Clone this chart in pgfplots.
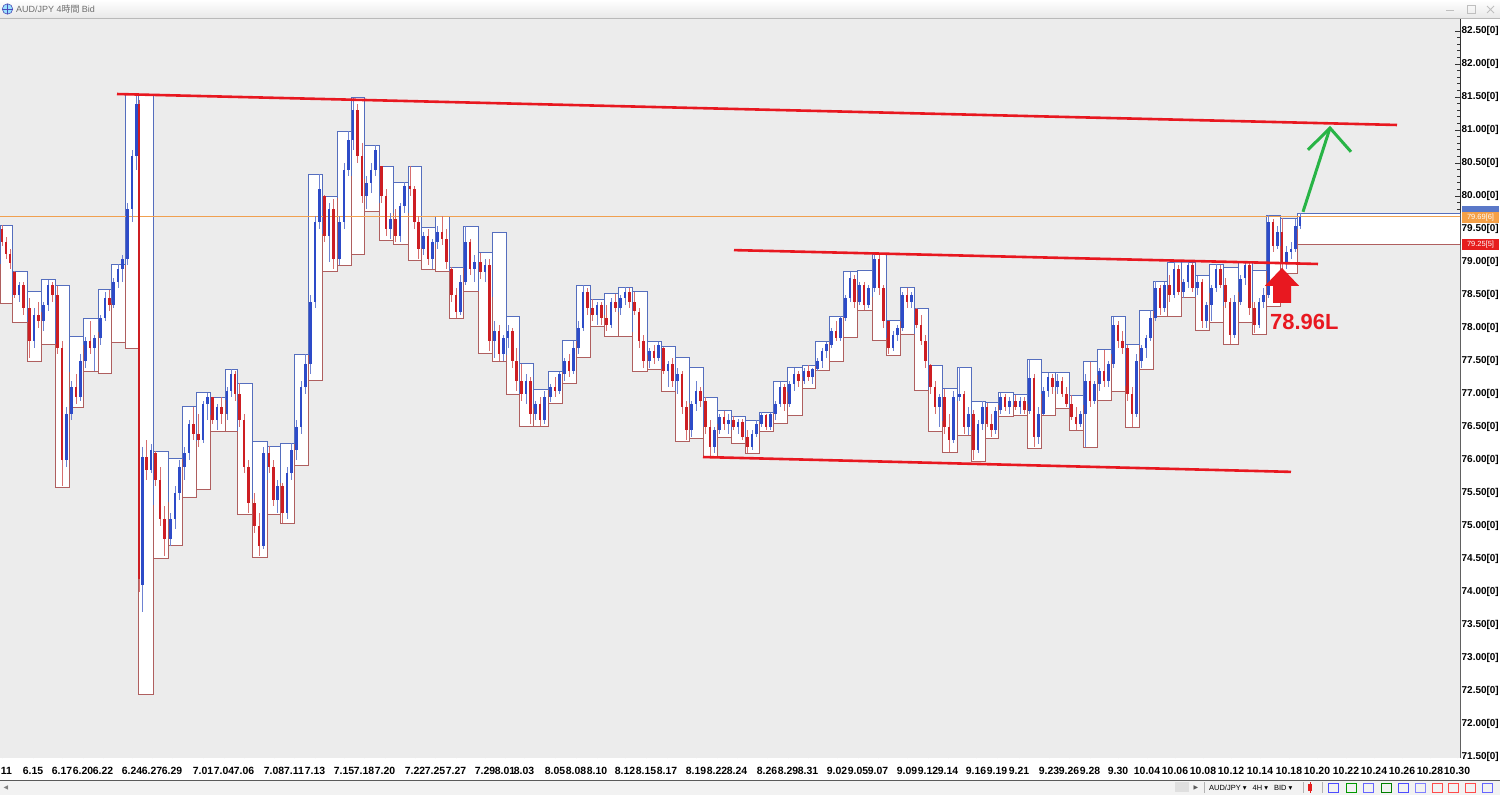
\documentclass[border=0pt]{standalone}
\usepackage{fontspec}
\setmainfont{Liberation Sans}
\newfontfamily\cjk{Noto Sans CJK JP}
\newfontfamily\dejavu{DejaVu Sans}
\usepackage{pgfplots}
\pgfplotsset{compat=1.18}
\usepackage{pgfplotstable}

\definecolor{plotbg}{RGB}{236,236,236}
\definecolor{chanup}{RGB}{85,110,190}
\definecolor{chanlo}{RGB}{175,95,95}
\definecolor{upbody}{RGB}{45,75,200}
\definecolor{upwick}{RGB}{110,130,210}
\definecolor{dnbody}{RGB}{205,30,35}
\definecolor{dnwick}{RGB}{215,110,110}
\definecolor{trend}{RGB}{232,24,32}
\definecolor{arrowgreen}{RGB}{40,180,70}
\definecolor{orangeln}{RGB}{240,160,80}
\definecolor{tagblue}{RGB}{90,120,200}
\definecolor{tagorange}{RGB}{245,160,70}
\definecolor{tagred}{RGB}{230,30,30}
\definecolor{titlegray}{RGB}{110,110,110}

\pgfplotstableread{
x u l
0 79.56 78.37
12 78.86 78.08
27 78.55 77.50
41 78.73 77.75
55 78.64 75.59
69 77.87 76.79
83 78.15 77.34
98 78.58 77.31
111 78.97 77.78
125 81.54 77.69
138 81.54 72.45
153 76.13 74.51
168 76.02 74.70
182 76.81 75.44
196 77.02 75.56
210 76.95 76.43
225 77.38 76.43
237 77.16 75.18
252 76.28 74.53
267 76.21 75.18
280 76.25 75.04
294 77.60 75.92
308 80.33 77.20
322 80.00 78.85
337 80.98 78.95
351 81.49 79.12
364 80.77 79.76
379 80.45 79.33
393 80.21 79.26
408 80.45 79.03
421 79.53 78.89
435 79.69 78.86
449 78.92 78.15
463 79.54 78.56
478 79.14 77.61
492 79.45 77.49
506 78.17 77.00
519 77.46 76.51
533 77.07 76.51
548 77.34 76.86
562 77.81 77.16
576 78.65 77.56
590 78.44 78.02
604 78.52 77.87
618 78.62 77.87
632 78.55 77.34
647 77.79 77.38
661 77.72 77.04
675 77.56 76.28
689 77.41 76.33
703 76.95 76.05
717 76.75 76.34
731 76.66 76.25
745 76.60 76.10
759 76.72 76.43
773 77.19 76.55
787 77.40 76.67
802 77.44 77.08
815 77.79 77.35
829 78.18 77.49
843 78.85 77.85
857 78.88 78.27
872 79.12 77.81
886 78.11 77.58
900 78.61 77.91
914 78.29 77.05
928 77.44 76.43
942 77.08 76.11
957 77.41 76.37
971 76.89 75.98
985 76.87 76.33
998 77.02 76.66
1013 77.00 76.67
1027 77.52 76.18
1041 77.32 76.67
1055 77.32 76.78
1069 76.98 76.45
1083 77.49 76.19
1097 77.67 76.90
1111 78.17 77.04
1125 77.75 76.49
1139 78.27 77.38
1153 78.71 78.17
1167 79.00 78.18
1181 79.00 78.46
1195 78.79 77.97
1209 78.97 78.09
1223 78.92 77.75
1238 79.00 78.09
1252 78.88 77.90
1266 79.71 78.32
1280 79.66 78.82
1297 79.74 79.26
1460 79.74 79.26
}\chan

\pgfplotstableread{
x o h l c
2 79.50 79.56 79.25 79.30
6 79.30 79.38 79.05 79.12
10 79.12 79.20 78.90 78.98
14.5 78.85 78.86 78.45 78.50
19 78.50 78.70 78.40 78.65
23.5 78.65 78.70 78.20 78.30
29.5 78.30 78.45 77.55 77.80
34 77.80 78.30 77.70 78.20
38.5 78.20 78.40 78.00 78.10
43.5 78.10 78.40 77.95 78.35
48 78.35 78.73 78.25 78.65
52.5 78.65 78.70 78.40 78.50
57.5 78.50 78.64 77.60 77.70
62 77.70 77.80 75.60 76.00
66.5 76.00 76.80 75.90 76.70
71.5 76.70 77.20 76.60 77.10
76 77.10 77.30 76.85 76.95
80.5 76.95 77.60 76.90 77.50
85.5 77.50 77.87 77.40 77.80
90 77.80 78.10 77.60 77.70
94.5 77.70 77.90 77.35 77.85
100.5 77.85 78.20 77.75 78.15
105 78.15 78.55 78.10 78.45
109.5 78.45 78.58 78.25 78.35
113.5 78.35 78.75 78.30 78.70
118 78.70 78.97 78.60 78.90
122.5 78.90 79.10 78.70 79.05
127.5 79.05 79.90 78.95 79.80
132 79.80 80.70 79.60 80.60
136.5 80.60 81.55 80.40 81.40
139 81.40 81.45 74.00 74.20
142.5 74.10 76.20 73.70 76.05
146.5 76.05 76.30 75.70 75.85
151 75.85 76.25 75.80 76.15
155.5 76.10 76.13 75.60 75.70
160 75.70 75.90 75.00 75.10
164.5 75.10 75.30 74.55 74.80
170.5 74.80 75.20 74.70 75.10
175 75.10 75.60 74.95 75.50
179.5 75.50 76.00 75.40 75.90
184.5 75.90 76.20 75.70 76.10
189 76.10 76.60 76.00 76.55
193.5 76.55 76.80 76.30 76.40
198.5 76.40 76.70 76.20 76.30
203 76.30 76.90 76.25 76.85
207.5 76.85 77.02 76.60 76.95
212.5 76.95 76.96 76.55 76.60
217 76.60 76.85 76.45 76.80
221.5 76.80 76.95 76.55 76.70
227 76.70 77.10 76.60 77.05
231 77.05 77.38 76.95 77.30
235 77.30 77.35 76.90 77.00
239.5 77.00 77.16 76.50 76.60
244 76.60 76.70 75.80 75.90
248.5 75.90 76.00 75.20 75.35
254.5 75.35 75.50 74.90 75.00
259 75.00 75.20 74.55 74.70
263.5 74.70 76.20 74.65 76.10
269 76.10 76.21 75.80 75.90
273.5 75.90 76.00 75.30 75.40
277.5 75.40 75.70 75.20 75.60
282.5 75.60 75.65 75.05 75.20
287 75.20 75.90 75.10 75.80
291.5 75.80 76.25 75.70 76.15
296.5 76.15 76.60 76.00 76.50
301 76.50 77.20 76.40 77.10
305.5 77.10 77.60 77.00 77.45
310.5 77.45 78.50 77.30 78.40
315 78.40 79.70 78.30 79.60
319.5 79.60 80.33 79.50 80.10
324.5 80.00 80.01 79.30 79.40
329 79.40 79.90 79.00 79.80
333.5 79.80 79.95 78.90 79.05
339.5 79.05 79.70 78.95 79.60
344 79.60 80.50 79.50 80.40
348.5 80.40 80.98 80.30 80.85
353 80.85 81.49 80.70 81.30
357.5 81.30 81.40 80.50 80.60
362 80.60 80.80 79.90 80.00
366.5 80.00 80.30 79.80 80.20
371 80.20 80.50 80.05 80.40
375.5 80.40 80.77 80.30 80.70
381.5 80.45 80.46 79.90 80.00
386 80.00 80.10 79.40 79.50
390.5 79.50 79.75 79.35 79.65
395.5 79.65 79.80 79.30 79.40
400 79.40 79.90 79.30 79.85
404.5 79.85 80.21 79.75 80.15
410 80.15 80.45 80.00 80.10
414.5 80.10 80.15 79.50 79.60
418.5 79.60 79.70 79.05 79.20
423.5 79.20 79.45 79.10 79.40
428 79.40 79.50 78.95 79.05
432.5 79.05 79.35 78.90 79.30
437.5 79.30 79.55 79.20 79.45
442 79.45 79.69 79.25 79.35
446.5 79.35 79.50 78.90 79.00
451.5 78.90 78.92 78.40 78.50
456 78.50 78.60 78.15 78.25
460.5 78.25 78.80 78.20 78.70
465.5 78.70 79.54 78.65 79.30
470 79.30 79.35 78.80 78.90
474.5 78.90 79.10 78.70 79.00
480.5 79.00 79.14 78.75 78.85
485 78.85 79.05 78.70 78.95
489.5 78.95 79.05 77.65 77.80
494.5 77.80 78.10 77.55 77.95
499 77.95 78.05 77.50 77.60
503.5 77.60 77.90 77.50 77.85
508 77.85 78.05 77.70 77.95
512.5 77.95 78.00 77.40 77.50
516.5 77.50 77.70 77.05 77.20
521.5 77.20 77.46 76.90 77.00
526 77.00 77.30 76.85 77.20
530.5 77.20 77.25 76.55 76.70
535.5 76.70 76.90 76.60 76.85
540 76.85 76.95 76.52 76.60
544.5 76.60 77.05 76.55 76.95
550.5 76.95 77.15 76.88 77.10
555 77.10 77.25 76.95 77.05
559.5 77.05 77.34 77.00 77.30
564.5 77.30 77.55 77.20 77.50
569 77.50 77.60 77.25 77.35
573.5 77.35 77.81 77.30 77.70
578.5 77.70 78.10 77.60 78.00
583 78.00 78.65 77.95 78.55
587.5 78.55 78.60 78.20 78.30
592.5 78.30 78.44 78.10 78.20
597 78.20 78.40 78.05 78.35
601.5 78.35 78.40 78.05 78.15
606.5 78.15 78.35 77.95 78.05
611 78.05 78.45 78.00 78.40
615.5 78.40 78.52 78.25 78.30
620.5 78.30 78.50 78.20 78.45
625 78.45 78.62 78.35 78.55
629.5 78.55 78.60 78.30 78.40
634.5 78.40 78.55 78.20 78.25
639 78.25 78.30 77.70 77.80
643.5 77.80 77.90 77.40 77.50
649.5 77.50 77.70 77.40 77.65
654 77.65 77.75 77.45 77.55
658.5 77.55 77.79 77.50 77.75
663.5 77.70 77.72 77.30 77.35
668 77.35 77.50 77.10 77.45
672.5 77.45 77.55 77.10 77.20
677.5 77.20 77.40 77.00 77.30
682 77.30 77.35 76.70 76.80
686.5 76.80 76.90 76.30 76.45
691.5 76.45 76.90 76.35 76.85
696 76.85 77.20 76.75 77.05
700.5 77.05 77.10 76.80 76.90
705.5 76.90 76.95 76.40 76.50
710 76.50 76.60 76.06 76.20
714.5 76.20 76.50 76.10 76.45
719.5 76.45 76.70 76.40 76.65
724 76.65 76.75 76.45 76.55
728.5 76.55 76.70 76.40 76.60
733.5 76.60 76.66 76.45 76.50
738 76.50 76.62 76.40 76.58
742.5 76.58 76.62 76.30 76.35
747.5 76.35 76.45 76.10 76.20
752 76.20 76.45 76.15 76.40
756.5 76.40 76.60 76.35 76.55
761.5 76.55 76.72 76.50 76.68
766 76.68 76.70 76.45 76.50
770.5 76.50 76.72 76.45 76.70
775.5 76.70 76.90 76.60 76.85
780 76.85 77.19 76.80 77.10
784.5 77.10 77.15 76.75 76.85
789.5 76.85 77.20 76.80 77.15
794 77.15 77.40 77.05 77.30
798.5 77.30 77.35 77.10 77.20
804 77.20 77.40 77.15 77.35
808.5 77.35 77.44 77.20 77.25
812.5 77.25 77.40 77.15 77.38
817.5 77.38 77.55 77.35 77.50
822 77.50 77.70 77.40 77.65
826.5 77.65 77.79 77.55 77.75
831.5 77.75 78.00 77.70 77.95
836 77.95 78.10 77.80 77.85
840.5 77.85 78.18 77.80 78.15
845.5 78.15 78.50 78.10 78.45
850 78.45 78.85 78.40 78.75
854.5 78.75 78.80 78.30 78.40
859.5 78.40 78.70 78.35 78.65
864 78.65 78.70 78.28 78.35
868.5 78.35 78.65 78.30 78.60
874.5 78.60 79.12 78.55 79.05
879 79.05 79.10 78.50 78.60
883.5 78.60 78.65 78.00 78.10
888.5 78.10 78.11 77.60 77.70
893 77.70 77.95 77.65 77.90
897.5 77.90 78.05 77.80 78.00
902.5 78.00 78.55 77.95 78.50
907 78.50 78.61 78.30 78.40
911.5 78.40 78.55 78.30 78.50
916.5 78.29 78.30 78.00 78.05
921 78.05 78.20 77.75 77.80
925.5 77.80 77.90 77.40 77.50
930.5 77.44 77.45 77.00 77.10
935 77.10 77.20 76.70 76.80
939.5 76.80 77.00 76.50 76.95
944.5 76.95 77.08 76.40 76.50
949 76.50 76.70 76.12 76.30
953.5 76.30 77.05 76.25 76.95
959.5 76.95 77.41 76.90 77.00
964 77.00 77.05 76.40 76.50
968.5 76.50 76.80 76.38 76.70
973.5 76.70 76.75 76.00 76.15
978 76.15 76.60 76.10 76.55
982.5 76.55 76.89 76.45 76.80
987 76.80 76.87 76.50 76.55
991.5 76.55 76.70 76.35 76.45
995.5 76.45 76.80 76.40 76.75
1000.5 76.75 77.02 76.70 76.95
1005 76.95 77.00 76.75 76.80
1009.5 76.80 76.95 76.70 76.90
1015.5 76.90 76.98 76.75 76.80
1020 76.80 76.95 76.70 76.90
1024.5 76.90 76.95 76.70 76.75
1029.5 76.75 77.52 76.70 77.25
1034 77.25 77.30 76.20 76.35
1038.5 76.35 76.80 76.25 76.70
1043.5 76.70 77.10 76.68 77.05
1048 77.05 77.32 76.95 77.25
1052.5 77.25 77.30 77.00 77.10
1057.5 77.10 77.30 77.00 77.20
1062 77.20 77.25 76.95 77.00
1066.5 77.00 77.10 76.80 76.85
1071.5 76.85 76.98 76.60 76.65
1076 76.65 76.80 76.46 76.55
1080.5 76.55 76.75 76.50 76.70
1085.5 76.70 77.30 76.20 77.20
1090 77.20 77.49 76.80 76.90
1094.5 76.90 77.20 76.85 77.15
1099.5 77.15 77.40 77.05 77.35
1104 77.35 77.67 77.10 77.20
1108.5 77.20 77.50 77.10 77.45
1113.5 77.45 78.17 77.40 78.05
1118 78.05 78.10 77.70 77.80
1122.5 77.80 77.95 77.60 77.70
1127.5 77.70 77.75 76.90 77.00
1132 77.00 77.10 76.50 76.70
1136.5 76.70 77.60 76.65 77.50
1141.5 77.50 77.75 77.40 77.70
1146 77.70 77.90 77.55 77.85
1150.5 77.85 78.27 77.80 78.15
1155.5 78.15 78.71 78.10 78.60
1160 78.60 78.65 78.20 78.30
1164.5 78.30 78.70 78.25 78.65
1169.5 78.65 78.80 78.40 78.50
1174 78.50 79.00 78.45 78.90
1178.5 78.90 78.95 78.50 78.55
1183.5 78.55 78.75 78.46 78.70
1188 78.70 79.00 78.60 78.95
1192.5 78.95 78.98 78.55 78.60
1197.5 78.60 78.79 78.50 78.70
1202 78.70 78.75 78.00 78.10
1206.5 78.10 78.40 78.00 78.35
1211.5 78.35 78.65 78.10 78.60
1216 78.60 78.97 78.55 78.90
1220.5 78.90 78.95 78.60 78.65
1225.5 78.65 78.75 78.30 78.40
1230 78.40 78.45 77.76 77.90
1234.5 77.90 78.50 77.85 78.40
1240.5 78.40 78.80 78.35 78.75
1245 78.75 79.00 78.65 78.95
1249.5 78.95 78.98 78.20 78.30
1254.5 78.30 78.40 77.92 78.05
1259 78.05 78.45 78.00 78.40
1263.5 78.40 78.60 78.30 78.50
1268.5 78.50 79.71 78.45 79.60
1273 79.60 79.65 79.15 79.25
1277.5 79.25 79.55 79.20 79.45
1282 79.45 79.66 78.90 79.00
1286.5 79.00 79.25 78.90 79.15
1291 79.15 79.30 79.05 79.20
1295.5 79.20 79.65 79.15 79.55
1300 79.55 79.74 79.50 79.69
}\candles

\begin{document}
\begin{tikzpicture}[x=1bp,y=1bp]
\useasboundingbox (0bp,0bp) rectangle (1500bp,795bp);
\fill[white] (0bp,0bp) rectangle (1500bp,795bp);
% bottom toolbar
\fill[gray!10] (0bp,0bp) rectangle (1500bp,15bp);
\draw[gray!70!black, line width=0.8bp] (0bp,15bp) -- (1500bp,15bp);
\node[inner sep=0pt, text=gray, font=\dejavu\fontsize{6}{7}\selectfont] at (6bp,7.5bp) {◀};
\fill[gray!25] (1175bp,2.5bp) rectangle (1189bp,12.5bp);
\node[inner sep=0pt, text=gray!70!black, font=\dejavu\fontsize{6}{7}\selectfont] at (1196bp,7.5bp) {▶};
\draw[gray!60] (1204bp,2bp) -- (1204bp,13bp) (1303bp,2bp) -- (1303bp,13bp) (1322bp,2bp) -- (1322bp,13bp);
\node[anchor=west, inner sep=0pt, font=\fontsize{7.5}{8}\selectfont] at (1209bp,7.5bp) {AUD/JPY {\dejavu ▾}\hspace{4bp} 4H {\dejavu ▾}\hspace{4bp} BID {\dejavu ▾}};
\fill[tagred] (1308bp,4bp) rectangle (1312bp,11bp);
\draw[tagred] (1310bp,2bp) -- (1310bp,13bp);
\foreach \xx/\cc in {1333/blue!70, 1351/green!60!black, 1368/blue!60, 1386/green!50!black, 1403/blue!70, 1420/blue!50, 1437/red!70, 1453/red!70, 1470/red!70, 1487/blue!60}{
  \draw[\cc, line width=0.8bp] (\xx bp-5bp,3bp) rectangle (\xx bp+5bp,12bp);
}
\begin{axis}[
  at={(0bp,37bp)}, anchor=south west,
  scale only axis, width=1460bp, height=739bp,
  xmin=0, xmax=1460, ymin=71.4848, ymax=82.6818,
  axis background/.style={fill=plotbg},
  axis x line*=bottom, axis y line*=right,
  x axis line style={draw=none},
  y axis line style={-, black!80, line width=0.8bp},
  tick align=inside,
  major tick length=5bp, minor tick length=3bp,
  every tick/.style={black!80, line width=0.6bp},
  ytick={71.5,72,72.5,73,73.5,74,74.5,75,75.5,76,76.5,77,77.5,78,78.5,79,79.5,80,80.5,81,81.5,82,82.5},
  yticklabels={71.50[0],72.00[0],72.50[0],73.00[0],73.50[0],74.00[0],74.50[0],75.00[0],75.50[0],76.00[0],76.50[0],77.00[0],77.50[0],78.00[0],78.50[0],79.00[0],79.50[0],80.00[0],80.50[0],81.00[0],81.50[0],82.00[0],82.50[0]},
  minor y tick num=4,
  yticklabel style={font=\bfseries\fontsize{10}{12}\selectfont, anchor=west, inner sep=1.5bp},
  xtick={2,33,62,83,103,132,152,172,203,224,244,274,294,315,344,364,385,415,435,456,485,505,524,555,576,597,625,646,667,696,717,737,767,788,808,837,858,878,907,928,948,976,997,1019,1049,1069,1090,1118,1147,1175,1203,1231,1260,1289,1317,1346,1374,1402,1430,1457},
  xticklabels={6.11,6.15,6.17,6.20,6.22,6.24,6.27,6.29,7.01,7.04,7.06,7.08,7.11,7.13,7.15,7.18,7.20,7.22,7.25,7.27,7.29,8.01,8.03,8.05,8.08,8.10,8.12,8.15,8.17,8.19,8.22,8.24,8.26,8.29,8.31,9.02,9.05,9.07,9.09,9.12,9.14,9.16,9.19,9.21,9.23,9.26,9.28,9.30,10.04,10.06,10.08,10.12,10.14,10.18,10.20,10.22,10.24,10.26,10.28,10.30},
  minor x tick num=1,
  xticklabel style={font=\bfseries\fontsize{10.5}{12}\selectfont, anchor=north, inner sep=0pt, yshift=-9bp},
]
% channel: white band between the stepped high and low
\addplot[ybar interval, fill=white, draw=none, forget plot] table[x=x,y=u]{\chan};
\addplot[ybar interval, fill=plotbg, draw=none, forget plot] table[x=x,y=l]{\chan};
% box sides (upper half blue, lower half red)
\addplot[draw=none, mark=none, forget plot,
  error bars/.cd, y dir=plus, y explicit, error mark=none, error bar style={draw=chanup, line width=0.7bp}]
  table[x=x, y expr={(\thisrow{u}+\thisrow{l})/2}, y error expr={(\thisrow{u}-\thisrow{l})/2}]{\chan};
\addplot[draw=none, mark=none, forget plot,
  error bars/.cd, y dir=minus, y explicit, error mark=none, error bar style={draw=chanlo, line width=0.7bp}]
  table[x=x, y expr={(\thisrow{u}+\thisrow{l})/2}, y error expr={(\thisrow{u}-\thisrow{l})/2}]{\chan};
\addplot[const plot, draw=chanup, line width=0.8bp, forget plot] table[x=x,y=u]{\chan};
\addplot[const plot, draw=chanlo, line width=0.8bp, forget plot] table[x=x,y=l]{\chan};
% current price line
\addplot[orangeln, line width=0.8bp, forget plot] coordinates {(0,79.69) (1460,79.69)};
% candles: wicks
\addplot[draw=none, mark=none, forget plot, restrict expr to domain={\thisrow{c}-\thisrow{o}}{0:100},
  error bars/.cd, y dir=both, y explicit, error mark=none, error bar style={draw=upwick, line width=0.8bp}]
  table[x=x, y expr={(\thisrow{h}+\thisrow{l})/2}, y error expr={(\thisrow{h}-\thisrow{l})/2}]{\candles};
\addplot[draw=none, mark=none, forget plot, restrict expr to domain={\thisrow{o}-\thisrow{c}}{0.0001:100},
  error bars/.cd, y dir=both, y explicit, error mark=none, error bar style={draw=dnwick, line width=0.8bp}]
  table[x=x, y expr={(\thisrow{h}+\thisrow{l})/2}, y error expr={(\thisrow{h}-\thisrow{l})/2}]{\candles};
% candles: bodies
\addplot[draw=none, mark=none, forget plot, restrict expr to domain={\thisrow{c}-\thisrow{o}}{0:100},
  error bars/.cd, y dir=both, y explicit, error mark=none, error bar style={draw=upbody, line width=2.8bp}]
  table[x=x, y expr={(\thisrow{o}+\thisrow{c})/2}, y error expr={abs(\thisrow{c}-\thisrow{o})/2}]{\candles};
\addplot[draw=none, mark=none, forget plot, restrict expr to domain={\thisrow{o}-\thisrow{c}}{0.0001:100},
  error bars/.cd, y dir=both, y explicit, error mark=none, error bar style={draw=dnbody, line width=2.8bp}]
  table[x=x, y expr={(\thisrow{o}+\thisrow{c})/2}, y error expr={abs(\thisrow{c}-\thisrow{o})/2}]{\candles};
% trend lines
\addplot[trend, line width=2.6bp, forget plot] coordinates {(117,81.545) (1397,81.076)};
\addplot[trend, line width=2.6bp, forget plot] coordinates {(734,79.18) (1318,78.97)};
\addplot[trend, line width=2.6bp, forget plot] coordinates {(703,76.045) (1291,75.82)};
% green arrow
\addplot[arrowgreen, line width=3bp, forget plot] coordinates {(1303,79.76) (1330,81.03)};
\addplot[arrowgreen, line width=3bp, line join=miter, forget plot] coordinates {(1308,80.70) (1330,81.03) (1351,80.67)};
% red block arrow
\addplot[fill=trend, draw=none, forget plot] coordinates {(1282,78.91) (1299,78.64) (1291,78.64) (1291,78.38) (1273,78.38) (1273,78.64) (1265,78.64) (1282,78.91)};
\node[anchor=west, inner sep=0pt, text=trend, font=\bfseries\fontsize{22}{24}\selectfont] at (axis cs:1270,78.09) {78.96L};
\end{axis}
% title bar
\shade[top color=white, bottom color=gray!18] (0bp,777bp) rectangle (1500bp,795bp);
\draw[gray!55, line width=0.8bp] (0bp,776.6bp) -- (1500bp,776.6bp);
\fill[blue!30!cyan!40] (7.5bp,786bp) circle (5.2bp);
\draw[blue!60!black!70, line width=0.6bp] (7.5bp,786bp) circle (5.2bp);
\draw[blue!60!black!70, line width=0.5bp] (7.5bp,780.8bp) -- (7.5bp,791.2bp) (2.3bp,786bp) -- (12.7bp,786bp);
\node[anchor=west, inner sep=0pt, text=titlegray, font=\fontsize{9}{10}\selectfont] at (16bp,786bp) {AUD/JPY 4{\cjk 時間} Bid};
\draw[gray!50, line width=0.9bp] (1446bp,785bp) -- (1454bp,785bp);
\draw[gray!50, line width=0.8bp] (1467bp,781.5bp) rectangle (1475bp,789.5bp);
\draw[gray!50, line width=0.9bp] (1487bp,782bp) -- (1494bp,789bp) (1487bp,789bp) -- (1494bp,782bp);
% right price tags
\fill[tagblue] (1462bp,583bp) rectangle (1499bp,589bp);
\fill[tagorange] (1462bp,572bp) rectangle (1499bp,583bp);
\node[inner sep=0pt, text=white, font=\fontsize{7.5}{8}\selectfont] at (1480.5bp,577.5bp) {79.69[6]};
\fill[tagred] (1462bp,545bp) rectangle (1499bp,556bp);
\node[inner sep=0pt, text=white, font=\fontsize{7.5}{8}\selectfont] at (1480.5bp,550.5bp) {79.25[5]};
\end{tikzpicture}
\end{document}
